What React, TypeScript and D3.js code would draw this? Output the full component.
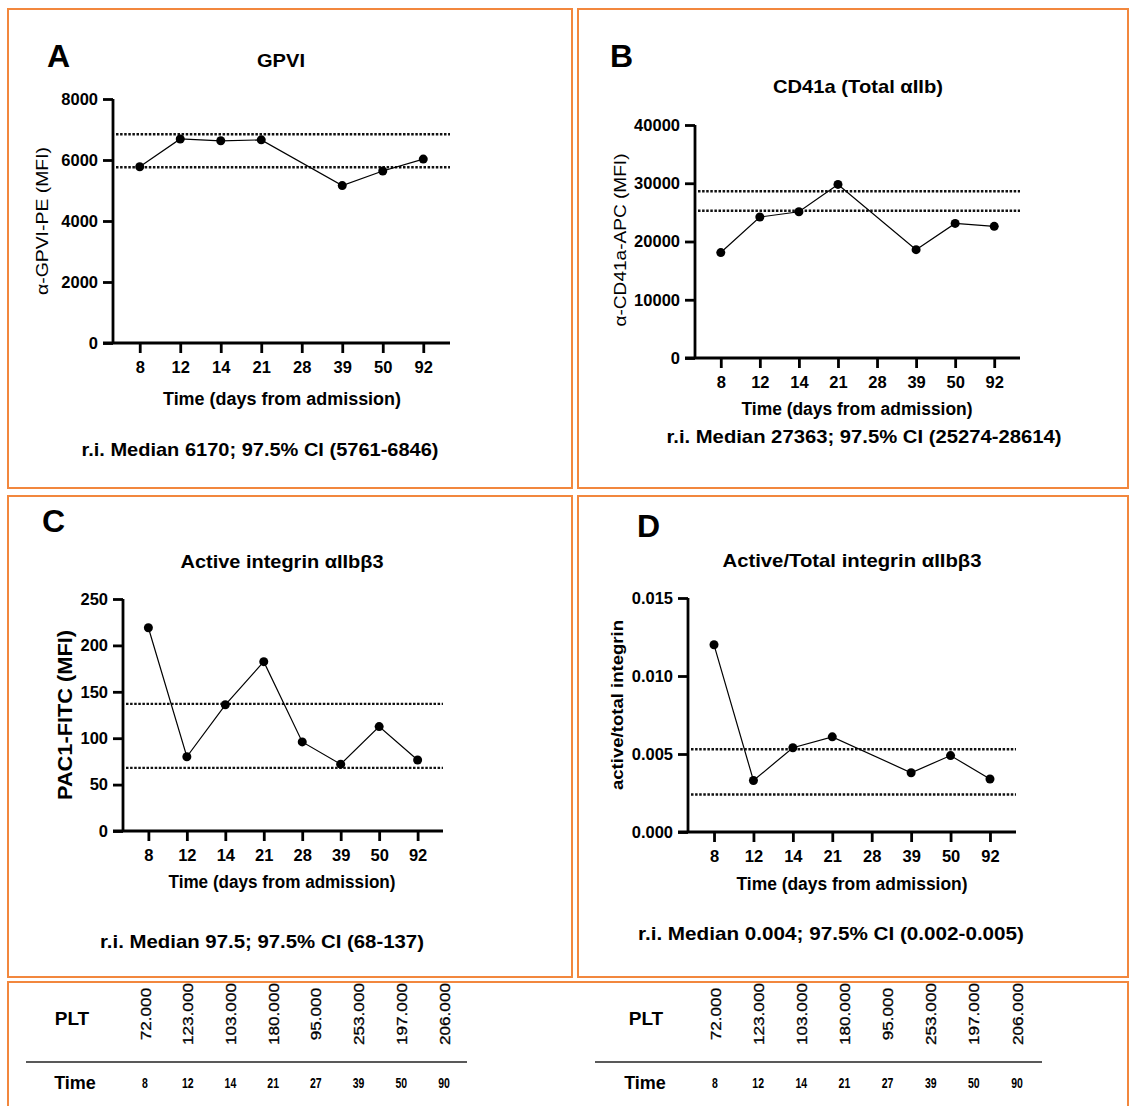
import { useRef, useEffect } from 'react';
import * as d3 from 'd3';

// x categories (days from admission)
const DAYS = ['8', '12', '14', '21', '28', '39', '50', '92'];

// series values (null = not measured on that day)
const GPVI = [5780, 6690, 6630, 6660, null, 5160, 5640, 6030];
const CD41A = [18100, 24200, 25100, 29800, null, 18600, 23100, 22600];
const PAC1 = [219, 80, 136, 182.5, 96, 72, 112.5, 76.5];
const RATIO = [0.012, 0.0033, 0.0054, 0.0061, null, 0.0038, 0.0049, 0.0034];

// reference interval lines (97.5% CI)
const GPVI_RI = [5761, 6846];
const CD41A_RI = [25274, 28614];
const PAC1_RI = [68, 137];
const RATIO_RI = [0.0024, 0.0053];

// y ticks
const GPVI_TICKS = [0, 2000, 4000, 6000, 8000];
const CD41A_TICKS = [0, 10000, 20000, 30000, 40000];
const PAC1_TICKS = [0, 50, 100, 150, 200, 250];
const RATIO_TICKS = [0, 0.005, 0.01, 0.015];

// platelet table
const PLT_VALUES = ['72.000', '123.000', '103.000', '180.000', '95.000', '253.000', '197.000', '206.000'];
const PLT_TIME = ['8', '12', '14', '21', '27', '39', '50', '90'];

const FONT = 'Arial, "Liberation Sans", Helvetica, sans-serif';
const ORANGE = '#f2873d';

const panels = [
  {
    letter: 'A', letterAt: [47, 67],
    title: 'GPVI', titleAt: [281, 67, 48],
    yLabel: 'α-GPVI-PE (MFI)', yLabelAt: [42, 221, 148, 16, 400],
    xTitleAt: [282, 405, 238],
    footer: 'r.i. Median 6170; 97.5% CI (5761-6846)', footerAt: [260, 456, 357],
    values: GPVI, ri: GPVI_RI, ticks: GPVI_TICKS, fmt: d3.format('d'),
    frame: [8, 9, 564, 479], plot: { l: 113, t: 99, r: 450, b: 343 },
  },
  {
    letter: 'B', letterAt: [610, 67],
    title: 'CD41a (Total αIIb)', titleAt: [858, 93, 170],
    yLabel: 'α-CD41a-APC (MFI)', yLabelAt: [620, 240, 173, 16, 400],
    xTitleAt: [857, 415, 231],
    footer: 'r.i. Median 27363; 97.5% CI (25274-28614)', footerAt: [864, 443, 395],
    values: CD41A, ri: CD41A_RI, ticks: CD41A_TICKS, fmt: d3.format('d'),
    frame: [578, 9, 550, 479], plot: { l: 695, t: 125, r: 1020, b: 358 },
  },
  {
    letter: 'C', letterAt: [42, 532],
    title: 'Active integrin αIIbβ3', titleAt: [282, 568, 203],
    yLabel: 'PAC1-FITC (MFI)', yLabelAt: [65, 715, 170, 20, 700],
    xTitleAt: [282, 888, 227],
    footer: 'r.i. Median  97.5; 97.5% CI (68-137)', footerAt: [262, 948, 324],
    values: PAC1, ri: PAC1_RI, ticks: PAC1_TICKS, fmt: d3.format('d'),
    frame: [8, 496, 564, 481], plot: { l: 123, t: 599, r: 443, b: 831 },
  },
  {
    letter: 'D', letterAt: [637, 537],
    title: 'Active/Total integrin αIIbβ3', titleAt: [852, 567, 259],
    yLabel: 'active/total integrin', yLabelAt: [617, 705, 170, 17, 700],
    xTitleAt: [852, 890, 231],
    footer: 'r.i.  Median 0.004; 97.5% CI (0.002-0.005)', footerAt: [831, 940, 386],
    values: RATIO, ri: RATIO_RI, ticks: RATIO_TICKS, fmt: d3.format('.3f'),
    frame: [578, 496, 550, 481], plot: { l: 688, t: 598, r: 1016, b: 832 },
  },
];

const tables = [
  { pltAt: [72, 1025], timeAt: [75, 1089], line: [26, 467], cols: [145, 444] },
  { pltAt: [646, 1025], timeAt: [645, 1089], line: [595, 1042], cols: [715, 1017] },
];

export default function App() {
  const svgRef = useRef(null);

  useEffect(() => {
    const svg = d3.select(svgRef.current);
    svg.selectAll('*').remove();

    svg.append('rect').attr('width', 1132).attr('height', 1106).attr('fill', '#fff');

    panels.forEach(p => {
      const g = svg.append('g');
      const [fx, fy, fw, fh] = p.frame;
      g.append('rect')
        .attr('x', fx).attr('y', fy).attr('width', fw).attr('height', fh)
        .attr('fill', 'none').attr('stroke', ORANGE).attr('stroke-width', 2);

      const { l, t, r, b } = p.plot;
      const x = d3.scalePoint().domain(DAYS).range([l, r]).padding(0.66);
      const y = d3.scaleLinear().domain([0, p.ticks[p.ticks.length - 1]]).range([b, t]);

      // letter + title
      g.append('text').attr('x', p.letterAt[0]).attr('y', p.letterAt[1])
        .attr('font-family', FONT).attr('font-weight', 700).attr('font-size', 32)
        .text(p.letter);
      g.append('text').attr('x', p.titleAt[0]).attr('y', p.titleAt[1])
        .attr('text-anchor', 'middle').attr('font-family', FONT).attr('font-weight', 700)
        .attr('font-size', 19).attr('textLength', p.titleAt[2]).attr('lengthAdjust', 'spacingAndGlyphs')
        .text(p.title);

      // y axis
      const yAxis = d3.axisLeft(y).tickValues(p.ticks).tickFormat(p.fmt).tickSize(10).tickPadding(5);
      const ya = g.append('g').attr('transform', `translate(${l},0)`).call(yAxis);
      ya.select('.domain').attr('d', `M0,${b}V${t}`);
      // x axis
      const xAxis = d3.axisBottom(x).tickSize(10).tickPadding(8);
      const xa = g.append('g').attr('transform', `translate(0,${b})`).call(xAxis);
      xa.select('.domain').attr('d', `M${l - 10},0H${r}`);
      [ya, xa].forEach(a => {
        a.selectAll('path, line').attr('stroke', '#000').attr('stroke-width', 2.8);
        a.selectAll('text').attr('font-family', FONT).attr('font-weight', 700)
          .attr('font-size', 16.5).attr('fill', '#000');
      });

      // reference interval lines
      p.ri.forEach(v => {
        g.append('line')
          .attr('x1', l + 3).attr('x2', r)
          .attr('y1', y(v)).attr('y2', y(v))
          .attr('stroke', '#111').attr('stroke-width', 2.4).attr('stroke-dasharray', '2.5,1.6');
      });

      // series
      const pts = DAYS.map((d, i) => ({ d, v: p.values[i] })).filter(e => e.v != null);
      const line = d3.line().x(e => x(e.d)).y(e => y(e.v));
      g.append('path').attr('d', line(pts)).attr('fill', 'none')
        .attr('stroke', '#000').attr('stroke-width', 1.2);
      g.selectAll('.pt').data(pts).enter().append('circle')
        .attr('cx', e => x(e.d)).attr('cy', e => y(e.v)).attr('r', 4.5).attr('fill', '#000');

      // axis titles
      g.append('text')
        .attr('transform', `translate(${p.yLabelAt[0]},${p.yLabelAt[1]}) rotate(-90)`)
        .attr('text-anchor', 'middle').attr('dy', '0.35em')
        .attr('font-family', FONT).attr('font-size', p.yLabelAt[3]).attr('font-weight', p.yLabelAt[4])
        .attr('textLength', p.yLabelAt[2]).attr('lengthAdjust', 'spacingAndGlyphs')
        .text(p.yLabel);
      g.append('text').attr('x', p.xTitleAt[0]).attr('y', p.xTitleAt[1])
        .attr('text-anchor', 'middle').attr('font-family', FONT).attr('font-weight', 700)
        .attr('font-size', 18).attr('textLength', p.xTitleAt[2]).attr('lengthAdjust', 'spacingAndGlyphs')
        .text('Time (days from admission)');
      g.append('text').attr('x', p.footerAt[0]).attr('y', p.footerAt[1])
        .attr('text-anchor', 'middle').attr('font-family', FONT).attr('font-weight', 700)
        .attr('font-size', 19).attr('textLength', p.footerAt[2]).attr('lengthAdjust', 'spacingAndGlyphs')
        .text(p.footer);
    });

    // platelet table box
    svg.append('path').attr('d', 'M8,1106V982H1128V1106')
      .attr('fill', 'none').attr('stroke', ORANGE).attr('stroke-width', 2);

    tables.forEach(tb => {
      const g = svg.append('g');
      const cx = d3.scalePoint().domain(d3.range(PLT_VALUES.length)).range(tb.cols);
      g.append('text').attr('x', tb.pltAt[0]).attr('y', tb.pltAt[1]).attr('text-anchor', 'middle')
        .attr('font-family', FONT).attr('font-weight', 700).attr('font-size', 19).text('PLT');
      g.append('text').attr('x', tb.timeAt[0]).attr('y', tb.timeAt[1]).attr('text-anchor', 'middle')
        .attr('font-family', FONT).attr('font-weight', 700).attr('font-size', 18).text('Time');
      g.append('line').attr('x1', tb.line[0]).attr('x2', tb.line[1])
        .attr('y1', 1062).attr('y2', 1062).attr('stroke', '#222').attr('stroke-width', 1.5);
      PLT_VALUES.forEach((v, i) => {
        g.append('text')
          .attr('transform', `translate(${cx(i) + 5.5},1014) rotate(-90) scale(1.18,1)`)
          .attr('text-anchor', 'middle')
          .attr('font-family', FONT).attr('font-size', 14.5).attr('stroke', '#000')
          .attr('stroke-width', 0.3).text(v);
      });
      PLT_TIME.forEach((v, i) => {
        g.append('text').attr('x', 0).attr('y', 0).attr('text-anchor', 'middle')
          .attr('font-family', FONT).attr('font-weight', 700).attr('font-size', 14)
          .attr('transform', `translate(${cx(i)},1088) scale(0.75,1)`)
          .text(v);
      });
    });
  }, []);

  return (
    <svg ref={svgRef} width={1132} height={1106}
      style={{ position: 'absolute', left: 0, top: 0, background: '#fff' }} />
  );
}
